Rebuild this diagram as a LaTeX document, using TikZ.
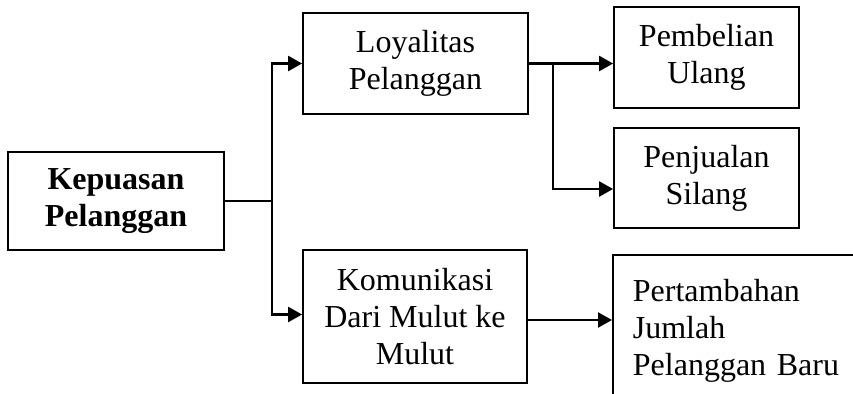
\documentclass[tikz,border=0pt]{standalone}
\usepackage{fontspec}
\setmainfont{Liberation Serif}
\usetikzlibrary{arrows.meta,calc,positioning}
\tikzstyle{arrow} = [line width=1.2pt, -{Triangle[length=7pt,width=7.5pt]}]
\tikzstyle{link} = [line width=1.2pt]
\tikzstyle{block} = [draw, line width=0.9pt, align=center, inner sep=0pt,
  font=\fontsize{16}{18.5}\selectfont]

\begin{document}
\begin{tikzpicture}[x=0.5pt,y=-0.5pt,line width=0.9pt]
\clip (0,0) rectangle (853,393);
% boxes
\node[block, minimum width=108pt, minimum height=49pt, font=\fontsize{16}{18.5}\selectfont\bfseries]
  (kepuasan) at (116,201) {Kepuasan\\Pelanggan};
\node[block, minimum width=112.5pt, minimum height=50.5pt] (loyalitas) at (415.5,63.5) {Loyalitas\\Pelanggan};
\node[block, minimum width=112pt, minimum height=66.5pt] (komunikasi) at (415,316.5) {Komunikasi\\Dari Mulut ke\\Mulut};
\node[block, minimum width=92.5pt, minimum height=50.5pt] (pembelian) at (706.5,57.5) {Pembelian\\Ulang};
\node[block, minimum width=92.5pt, minimum height=50pt] (penjualan) at (706.5,178) {Penjualan\\Silang};
\node[block, anchor=north west, align=left, text width=110pt, minimum height=90pt,
  inner xsep=10pt, inner ysep=9pt, text depth=55pt] (pertambahan) at (612,254)
  {Pertambahan\\Jumlah\\Pelanggan Baru};
% junctions
\coordinate (j1) at (272,201);
\coordinate (j2) at (553,63.5);
% connectors
\draw[link] (kepuasan.east) -- (j1);
\draw[arrow] (j1) |- (loyalitas.west);
\draw[arrow] (j1) |- ([yshift=1pt]komunikasi.west);
\draw[arrow] (loyalitas.east) -- (loyalitas.east -| pembelian.west);
\draw[arrow] (j2) |- ([yshift=-5.5pt]penjualan.west);
\draw[arrow] ([yshift=-1.75pt]komunikasi.east) -- ([yshift=-1.75pt]komunikasi.east -| pertambahan.west);
\end{tikzpicture}
\end{document}
